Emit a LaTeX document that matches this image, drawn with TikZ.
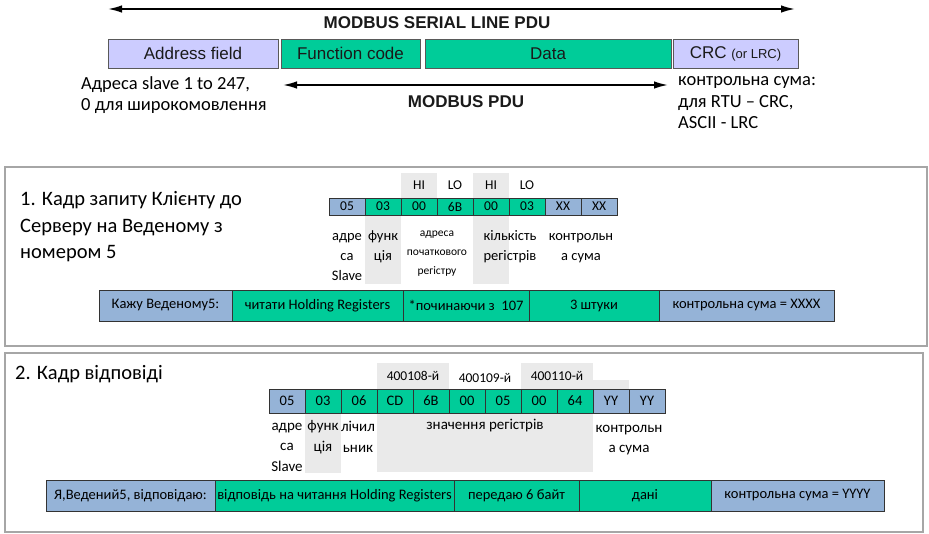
\documentclass[tikz,border=0pt]{standalone}
\usepackage{fontspec}
\setmainfont{Carlito}
\newfontfamily\arialfont{Liberation Sans}
\usetikzlibrary{arrows.meta,positioning,backgrounds}
\definecolor{lavender}{HTML}{CCCCFF}
\definecolor{mbgreen}{HTML}{00CC99}
\definecolor{cellblue}{HTML}{95B3D7}
\definecolor{gridgray}{HTML}{EAEAEA}
\definecolor{panelgray}{HTML}{A6A6A6}
\definecolor{ink}{HTML}{1A1A1A}
\newcommand{\setfs}[2]{\fontsize{#1}{#2}\selectfont}
\tikzset{
  pdubox/.style    = {rectangle, draw=black!65, line width=0.9pt, anchor=north west, inner sep=0pt, outer sep=0pt,
                      minimum height=29pt, font=\arialfont\setfs{17}{20}, text=ink},
  addrbox/.style   = {pdubox, fill=lavender},
  databox/.style   = {pdubox, fill=mbgreen},
  spanarrow/.style = {{Latex[length=14pt,width=7.5pt]}-{Latex[length=14pt,width=7.5pt]}, line width=1.7pt, draw=black},
  pdutitle/.style  = {font=\arialfont\bfseries\setfs{17}{20}, inner sep=0pt, text=ink},
  caption/.style   = {anchor=west, align=left, inner sep=0pt, font=\setfs{18.5}{21.5}},
  panelframe/.style= {draw=panelgray, line width=1.4pt},
  frametitle/.style= {anchor=west, align=left, inner sep=0pt, font=\setfs{20.5}{26.5}},
  cell/.style      = {rectangle, draw=black!80, line width=0.8pt, inner sep=0pt, outer sep=0pt,
                      minimum width=36pt, minimum height=17pt, font=\setfs{13.5}{15}},
  bcell/.style     = {cell, fill=cellblue},
  gcell/.style     = {cell, fill=mbgreen},
  rcell/.style     = {cell, minimum height=24pt, font=\setfs{14.5}{16}},
  brcell/.style    = {rcell, fill=cellblue},
  grcell/.style    = {rcell, fill=mbgreen},
  hilo/.style      = {inner sep=0pt, outer sep=0pt, minimum width=36pt, minimum height=25pt, font=\setfs{13.5}{15}},
  reglbl/.style    = {inner sep=0pt, outer sep=0pt, minimum width=72pt, minimum height=26pt, anchor=south west,
                      font=\setfs{13.5}{15}},
  greyband/.style  = {fill=gridgray, inner sep=0pt, outer sep=0pt, minimum width=36pt, anchor=north west},
  cellnote/.style  = {align=center, inner sep=0pt, font=\setfs{14.5}{20}},
  barbox/.style    = {rectangle, draw=black!80, line width=0.8pt, inner sep=0pt, outer sep=0pt,
                      minimum height=31pt, font=\setfs{14.5}{16}},
  bbar/.style      = {barbox, fill=cellblue},
  gbar/.style      = {barbox, fill=mbgreen},
}
\begin{document}
\begin{tikzpicture}[x=1pt, y=-1pt]
\useasboundingbox (0,0) rectangle (929,533);
% serial line frame
\node[addrbox, minimum width=170pt] (addr) at (108,39) {Address field};
\node[databox, minimum width=139pt] (func) at (281,39) {Function code};
\node[databox, minimum width=246pt] (data) at (425,39) {Data};
\node[addrbox, minimum width=125pt] (crc) at (673,39) {CRC {\setfs{13}{15}(or LRC)}};
\coordinate (serl) at (108,9);
\coordinate (serr) at (795,9);
\draw[spanarrow] (serl) -- (serr);
\node[pdutitle] (sertxt) at (437,23) {MODBUS SERIAL LINE PDU};
\coordinate (pdul) at (283,85);
\coordinate (pdur) at (668,85);
\draw[spanarrow] (pdul) -- (pdur);
\node[pdutitle] (pdutxt) at (466,102) {MODBUS PDU};
\node[caption] (addrcap) at (81,95) {Адреса slave 1 to 247,\\0 для широкомовлення};
\node[caption] (crccap) at (678,103) {контрольна сума:\\для RTU – CRC,\\ASCII - LRC};

% request
\draw[panelframe] (5,167) rectangle (927,346);
\node[frametitle] (reqtitle) at (20,227) {1. Кадр запиту Клієнту до\\Серверу на Веденому з\\номером 5};
\node[bcell, anchor=north west] (q1) at (329,198) {05};
\node[gcell, right=0pt of q1] (q2) {03};
\node[gcell, right=0pt of q2] (q3) {00};
\node[gcell, right=0pt of q3] (q4) {6B};
\node[gcell, right=0pt of q4] (q5) {00};
\node[gcell, right=0pt of q5] (q6) {03};
\node[bcell, right=0pt of q6] (q7) {XX};
\node[bcell, right=0pt of q7] (q8) {XX};
\begin{scope}[on background layer]
\node[hilo, fill=gridgray, above=0pt of q3] (qhi1) {HI};
\node[hilo, fill=gridgray, above=0pt of q5] (qhi2) {HI};
\node[greyband, minimum height=69pt] (qfband) at (q2.south west) {};
\node[greyband, minimum height=69pt] (qnband) at (q5.south west) {};
\end{scope}
\node[hilo, above=0pt of q4] (qlo1) {LO};
\node[hilo, above=0pt of q6] (qlo2) {LO};
\node[cellnote] (qaddr) at (347,257) {адре\\са\\Slave};
\node[cellnote] (qfunc) at (383,247) {функ\\ція};
\node[cellnote, font=\setfs{11.5}{19}] (qstart) at (437,254) {адреса\\початкового\\регістру};
\node[cellnote] (qnum) at (510,247) {кількість\\регістрів};
\node[cellnote] (qcrc) at (581,248) {контрольн\\а сума};
\node[bbar, minimum width=133pt, anchor=north west] (qb1) at (99,290) {Кажу Веденому5:};
\node[gbar, minimum width=171pt, right=0pt of qb1] (qb2) {читати Holding Registers};
\node[gbar, minimum width=126pt, right=0pt of qb2] (qb3) {*починаючи з\ \ 107};
\node[gbar, minimum width=130pt, right=0pt of qb3] (qb4) {3 штуки};
\node[bbar, minimum width=175pt, right=0pt of qb4] (qb5) {контрольна сума = XXXX};

% response
\draw[panelframe] (5,353) rectangle (923,532);
\node[frametitle] (resptitle) at (15,374) {2. Кадр відповіді};
\node[brcell, anchor=north west] (r1) at (269,389) {05};
\node[grcell, right=0pt of r1] (r2) {03};
\node[grcell, right=0pt of r2] (r3) {06};
\node[grcell, right=0pt of r3] (r4) {CD};
\node[grcell, right=0pt of r4] (r5) {6B};
\node[grcell, right=0pt of r5] (r6) {00};
\node[grcell, right=0pt of r6] (r7) {05};
\node[grcell, right=0pt of r7] (r8) {00};
\node[grcell, right=0pt of r8] (r9) {64};
\node[brcell, right=0pt of r9] (r10) {YY};
\node[brcell, right=0pt of r10] (r11) {YY};
\begin{scope}[on background layer]
\node[reglbl, fill=gridgray] (rreg1) at (r4.north west) {400108-й};
\node[reglbl, fill=gridgray] (rreg3) at (r8.north west) {400110-й};
\node[greyband, minimum height=9pt, anchor=south west] (rcband) at (r10.north west) {};
\node[greyband, minimum height=60pt] (rfband) at (r2.south west) {};
\node[greyband, minimum width=216pt, minimum height=59pt] (rvband) at (r4.south west) {};
\end{scope}
\node[reglbl, yshift=-2pt] (rreg2) at (r6.north west) {400109-й};
\node[cellnote, font=\setfs{15}{20.5}] (raddr) at (287,447) {адре\\са\\Slave};
\node[cellnote, font=\setfs{15}{20.5}] (rfunc) at (323,437) {функ\\ція};
\node[cellnote, font=\setfs{15}{20.5}] (rcnt) at (358,437) {лічил\\ьник};
\node[cellnote, font=\setfs{15}{20.5}] (rvals) at (485,426) {значення регістрів};
\node[cellnote, font=\setfs{15}{20.5}] (rcrc) at (629,440) {контрольн\\а сума};
\node[bbar, minimum width=169pt, anchor=north west] (rb1) at (46,480) {Я,Ведений5, відповідаю:};
\node[gbar, minimum width=239pt, right=0pt of rb1] (rb2) {відповідь на читання Holding Registers};
\node[gbar, minimum width=125pt, right=0pt of rb2] (rb3) {передаю 6 байт};
\node[gbar, minimum width=132pt, right=0pt of rb3] (rb4) {дані};
\node[bbar, minimum width=173pt, right=0pt of rb4] (rb5) {контрольна сума = YYYY};
\end{tikzpicture}
\end{document}
